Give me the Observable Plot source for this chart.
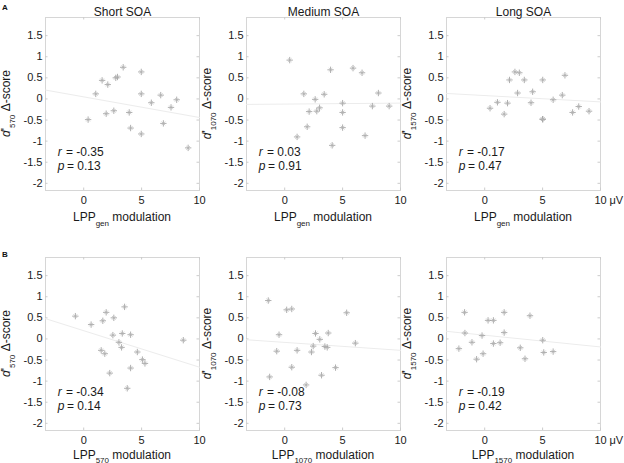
<!DOCTYPE html>
<html>
<head>
<meta charset="utf-8">
<script src="https://cdn.jsdelivr.net/npm/d3@7"></script>
<script src="https://cdn.jsdelivr.net/npm/@observablehq/plot@0.6"></script>
<style>
  body { margin: 0; background: #fff; }
  #wrap { position: relative; width: 624px; height: 463px; overflow: hidden; background: #fff; font-family: "Liberation Sans", Arial, sans-serif; }
  .panel { position: absolute; }
  .letter { position: absolute; font-weight: bold; font-size: 8px; color: #111; line-height: 8px; }
</style>
</head>
<body>
<div id="wrap"></div>
<script>
// ---------- data ----------
const titles = ["Short SOA", "Medium SOA", "Long SOA"];
const delays = ["570", "1070", "1570"];
const xSubRowA = "gen";
const rowLetters = ["A", "B"];
const yTicks = [-2, -1.5, -1, -0.5, 0, 0.5, 1, 1.5];
const xTicks = [0, 5, 10];
const xDomain = [-3.3, 10];
const yDomain = [-2.17, 1.93];

// Row A: LPP_gen modulation
const a1x = [0.38, 1.04, 1.59, 2.08, 1.94, 2.60, 2.77, 2.92, 3.41, 3.93, 4.05, 4.97, 4.97, 4.97, 5.84, 6.65, 6.88, 7.54, 8.03, 9.02];
const a1y = [-0.49, 0.12, 0.44, 0.34, -0.35, -0.28, 0.50, 0.52, 0.75, -0.32, -0.69, 0.64, 0.12, -0.83, -0.09, 0.09, -0.58, -0.20, -0.02, -1.16];
const a2x = [0.43, 1.07, 1.65, 1.94, 2.11, 2.63, 2.77, 3.01, 3.41, 3.96, 4.10, 5.0, 5.0, 5.0, 5.90, 6.68, 6.94, 7.57, 8.09, 9.02];
const a2y = [0.92, -0.90, 0.12, -0.66, -0.30, -0.01, -0.29, -0.21, 0.11, 0.69, -1.10, -0.10, -0.32, -0.68, 0.73, 0.62, -0.87, -0.17, 0.14, -0.17];
const a3x = [0.46, 1.10, 1.68, 1.97, 2.14, 2.61, 2.84, 2.99, 3.42, 4.0, 4.14, 5.01, 5.01, 5.01, 5.91, 6.70, 6.93, 7.59, 8.12, 9.01];
const a3y = [-0.22, -0.08, -0.36, -0.10, 0.45, 0.64, 0.14, 0.62, 0.45, -0.09, 0.17, 0.45, -0.48, -0.48, -0.02, 0.09, 0.56, -0.32, -0.18, -0.29];
// Row B: LPP at matching latency
const b1x = [-0.72, 3.53, 1.94, 2.60, 1.65, 0.64, 2.52, 3.33, 4.05, 3.04, 3.27, 1.51, 1.82, 4.63, 5.07, 5.29, 4.05, 2.25, 3.76, 8.6];
const b1y = [0.54, 0.76, 0.63, 0.50, 0.43, 0.34, 0.09, 0.13, 0.10, -0.08, -0.20, -0.27, -0.35, -0.31, -0.49, -0.58, -0.69, -0.81, -1.17, -0.03];
const b2x = [-1.42, -1.30, -0.49, -0.69, 0.17, 0.61, 1.07, 0.61, 1.85, 2.31, 2.46, 2.66, 3.03, 3.18, 3.47, 3.67, 3.76, 4.39, 5.35, 6.10];
const b2y = [0.91, -0.90, 0.10, -0.29, 0.69, 0.71, -0.27, -0.67, -1.09, -0.31, -0.17, 0.13, -0.01, -0.86, -0.18, -0.20, 0.14, -0.68, 0.62, -0.10];
const b3x = [-2.23, -1.74, -1.71, -1.10, -0.70, -0.23, -0.14, 0.29, 0.75, 0.75, 1.33, 1.68, 1.68, 3.07, 3.48, 3.91, 5.01, 5.10, 5.91];
const b3y = [-0.23, 0.63, 0.14, -0.08, -0.48, 0.08, -0.35, 0.44, 0.44, -0.11, -0.09, 0.63, 0.15, -0.21, -0.47, 0.55, -0.03, -0.32, -0.30];

// fitted lines as drawn in the figure (intercept at x = 0, slope)
const fitIntercepts = [0.049, -0.122, 0.080, 0.195, -0.082, 0.088];
const fitSlopes = [-0.0489, 0.0023, -0.015, -0.0865, -0.0188, -0.0278];

const rValues = ["-0.35", "0.03", "-0.17", "-0.34", "-0.08", "-0.19"];
const pValues = ["0.13", "0.91", "0.47", "0.14", "0.73", "0.42"];

// ---------- layout ----------
const FW = 154, FH = 173;
const ML = 45, MR = 25, MT = 17, MB = 46;
const frameLefts = [45, 245.5, 446];
const rowTops = [17, 256.5];
const FONT = "'Liberation Sans', Arial, Helvetica, sans-serif";

const series = [[a1x, a1y], [a2x, a2y], [a3x, a3y], [b1x, b1y], [b2x, b2y], [b3x, b3y]];

const wrap = document.getElementById("wrap");
const tx = 2.5 * (xDomain[1] - xDomain[0]) / FW;
const ty = 2.5 * (yDomain[1] - yDomain[0]) / FH;

for (let row = 0; row < 2; row++) {
  for (let col = 0; col < 3; col++) {
    const idx = row * 3 + col;
    const [xs, ys] = series[idx];
    const pts = xs.map((x, i) => ({ x, y: ys[i] }));
    const reg = xDomain.map(x => ({ x, y: fitIntercepts[idx] + fitSlopes[idx] * x }));
    const marks = [
      Plot.frame({ stroke: "#d6d6d6" }),
      Plot.ruleY(yTicks, { x1: xDomain[0], x2: xDomain[0] + tx, stroke: "#cccccc" }),
      Plot.ruleY(yTicks, { x1: xDomain[1] - tx, x2: xDomain[1], stroke: "#cccccc" }),
      Plot.ruleX(xTicks, { y1: yDomain[0], y2: yDomain[0] + ty, stroke: "#cccccc" }),
      Plot.ruleX(xTicks, { y1: yDomain[1] - ty, y2: yDomain[1], stroke: "#cccccc" }),
      Plot.line(reg, { x: "x", y: "y", stroke: "#ececec", strokeWidth: 1 }),
      Plot.dot(pts, { x: "x", y: "y", symbol: "plus", r: 2.2, stroke: "#9a9a9a", strokeWidth: 0.8 }),
      Plot.dot(pts, { x: "x", y: "y", symbol: "times", r: 1.8, stroke: "#b4b4b4", strokeWidth: 0.7 }),
      Plot.axisY({ ticks: yTicks, tickSize: 0, tickPadding: 3, tickFormat: d => String(d), label: null, fontSize: 11 }),
      Plot.axisX({ ticks: xTicks, tickSize: 0, tickPadding: 6, tickFormat: d => String(d), label: null, fontSize: 11 }),
      Plot.text(["r"], { frameAnchor: "bottom-left", dx: 12.3, dy: -35, fontSize: 12, fontStyle: "italic", textAnchor: "start" }),
      Plot.text(["= " + rValues[idx]], { frameAnchor: "bottom-left", dx: 20.5, dy: -35, fontSize: 12, textAnchor: "start" }),
      Plot.text(["p"], { frameAnchor: "bottom-left", dx: 12.3, dy: -20.5, fontSize: 12, fontStyle: "italic", textAnchor: "start" }),
      Plot.text(["= " + pValues[idx]], { frameAnchor: "bottom-left", dx: 21.5, dy: -20.5, fontSize: 12, textAnchor: "start" })
    ];
    if (row === 0) {
      marks.push(Plot.text([titles[col]], { frameAnchor: "top", dy: -10, fontSize: 12 }));
    }
    if (col === 2) {
      marks.push(Plot.text(["μV"], { x: [10], frameAnchor: "bottom", dy: 6, dx: 9, lineAnchor: "top", textAnchor: "start", fontSize: 11 }));
    }
    const svg = Plot.plot({
      width: FW + ML + MR,
      height: FH + MT + MB,
      marginLeft: ML, marginRight: MR, marginTop: MT, marginBottom: MB,
      x: { domain: xDomain },
      y: { domain: yDomain },
      style: { fontFamily: FONT, fontSize: "11px", background: "transparent", color: "#1a1a1a", overflow: "visible" },
      marks
    });
    svg.classList.add("panel");
    svg.style.left = (frameLefts[col] - ML) + "px";
    svg.style.top = (rowTops[row] - MT) + "px";
    svg.style.position = "absolute";
    svg.style.maxWidth = "none";

    const s = d3.select(svg);
    // x axis label with subscript
    const xsub = row === 0 ? xSubRowA : delays[col];
    const xl = s.append("text")
      .attr("x", ML + FW / 2).attr("y", MT + FH + (row === 0 ? 31 : 29))
      .attr("text-anchor", "middle")
      .attr("font-family", FONT).attr("font-size", 12).attr("fill", "#1a1a1a");
    xl.append("tspan").text("LPP");
    xl.append("tspan").attr("font-size", 8).attr("dy", row === 0 ? 5 : 4).text(xsub);
    xl.append("tspan").attr("dy", row === 0 ? -5 : -4).text(" modulation");
    // y axis label
    const yl = s.append("text")
      .attr("transform", `translate(${ML - 35.5},${MT + FH / 2}) rotate(-90)`)
      .attr("text-anchor", "middle")
      .attr("font-family", FONT).attr("font-size", 12).attr("fill", "#1a1a1a");
    yl.append("tspan").attr("font-style", "italic").text("d");
    yl.append("tspan").text("'");
    yl.append("tspan").attr("font-size", 8).attr("dy", 5).text(delays[col]);
    yl.append("tspan").attr("dy", -5).text(" Δ-score");

    wrap.appendChild(svg);
  }
}

rowLetters.forEach((L, i) => {
  const d = document.createElement("div");
  d.className = "letter";
  d.textContent = L;
  d.style.left = "2px";
  d.style.top = (i === 0 ? 4 : 251) + "px";
  wrap.appendChild(d);
});
</script>
</body>
</html>
